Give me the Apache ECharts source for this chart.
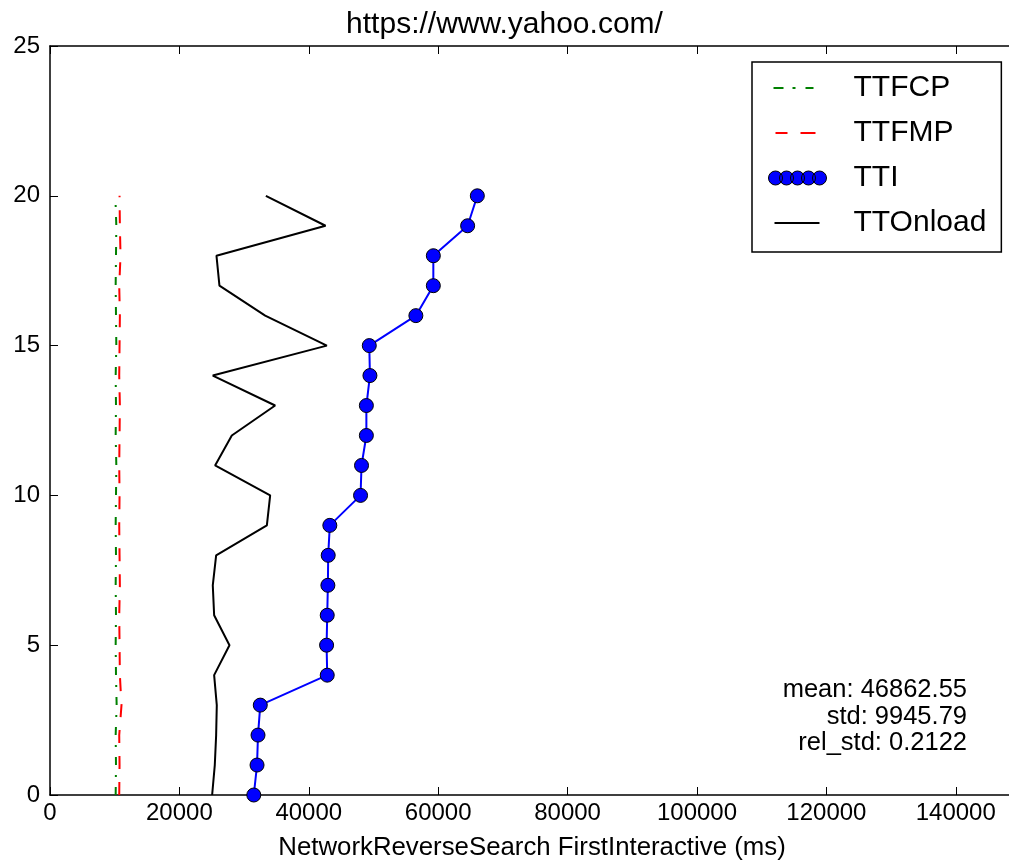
<!DOCTYPE html>
<html>
<head>
<meta charset="utf-8">
<script src="https://cdn.jsdelivr.net/npm/echarts@6/dist/echarts.min.js"></script>
<style>
  html, body { margin: 0; padding: 0; background: #fff; }
  #main { width: 1009px; height: 863px; }
</style>
</head>
<body>
<div id="main"></div>
<script>
// run index (y axis)
var runs = [0, 1, 2, 3, 4, 5, 6, 7, 8, 9, 10, 11, 12, 13, 14, 15, 16, 17, 18, 19, 20];
// x values in ms
var ttfcp = [10150, 10200, 10150, 10300, 10200, 10150, 10200, 10150, 10200, 10150, 10200,
             10250, 10150, 10200, 10150, 10250, 10200, 10150, 10200, 10250, 10100];
var ttfmp = [10700, 10750, 10700, 11050, 10800, 10750, 10700, 10800, 10750, 10700, 10750,
             10700, 10750, 10800, 10700, 10750, 10800, 10700, 10900, 10800, 10750];
var tti = [31500, 32000, 32150, 32500, 42850, 42750, 42850, 42950, 43000, 43250, 48000,
           48150, 48900, 48900, 49450, 49350, 56550, 59250, 59250, 64550, 66050];
var ttonload = [25060, 25470, 25680, 25780, 25370, 27740, 25370, 25160, 25680, 33520, 34030,
                25520, 28100, 34800, 25160, 42790, 33260, 26190, 25730, 42590, 33365];
var xTicks = [0, 20000, 40000, 60000, 80000, 100000, 120000, 140000];
var statLines = ['mean: 46862.55', 'std: 9945.79', 'rel_std: 0.2122'];

function pairs(xs) {
  return xs.map(function (v, i) { return [v, runs[i]]; });
}

var FONT = '"Liberation Sans", Arial, sans-serif';
// legend icons, drawn in a 58x14 box (tiny corner triangles fix the box)
var anchors = 'M0,0L0.01,0L0,0.01Z M58,14L57.99,14L58,13.99Z ';
var iconFcp = 'path://' + anchors + 'M5,6h10v2h-10Z M24,6h3v2h-3Z M37,6h8v2h-8Z';
var iconFmp = 'path://' + anchors + 'M7,6h12v2h-12Z M32,6h15v2h-15Z';
var iconOnload = 'path://' + anchors + 'M6,6h45v2h-45Z';
var iconTti = 'path://' + anchors +
  'M0,7a7,7 0 1,0 14,0a7,7 0 1,0 -14,0Z M11,7a7,7 0 1,0 14,0a7,7 0 1,0 -14,0Z ' +
  'M22,7a7,7 0 1,0 14,0a7,7 0 1,0 -14,0Z M33,7a7,7 0 1,0 14,0a7,7 0 1,0 -14,0Z ' +
  'M44,7a7,7 0 1,0 14,0a7,7 0 1,0 -14,0Z';

var chart = echarts.init(document.getElementById('main'));
var option = {
  animation: false,
  backgroundColor: '#fff',
  title: {
    text: 'https://www.yahoo.com/',
    left: 'center',
    top: 5,
    textStyle: { fontFamily: FONT, fontSize: 30, fontWeight: 'normal', color: '#000' }
  },
  grid: { left: 50, right: -5, top: 46, bottom: 68, containLabel: false, outerBoundsMode: 'none' },
  legend: {
    orient: 'vertical',
    left: 752,
    top: 62,
    padding: [11, 15, 14, 16],
    itemGap: 15,
    itemWidth: 58,
    itemHeight: 14,
    borderColor: '#000',
    borderWidth: 1.5,
    backgroundColor: '#fff',
    textStyle: { fontFamily: FONT, fontSize: 30, lineHeight: 30, color: '#000', padding: [0, 0, 0, 22] },
    data: [
      { name: 'TTFCP', icon: iconFcp, itemStyle: { color: '#008000', borderWidth: 0 } },
      { name: 'TTFMP', icon: iconFmp, itemStyle: { color: '#ff0000', borderWidth: 0 } },
      { name: 'TTI', icon: iconTti, itemStyle: { color: '#0000ff', borderColor: '#000', borderWidth: 1 } },
      { name: 'TTOnload', icon: iconOnload, itemStyle: { color: '#000', borderWidth: 0 } }
    ]
  },
  xAxis: [
    {
      type: 'value',
      position: 'bottom',
      min: 0,
      max: 149000,
      interval: 20000,
      name: 'NetworkReverseSearch FirstInteractive (ms)',
      nameLocation: 'middle',
      nameGap: 40,
      nameTextStyle: { fontFamily: FONT, fontSize: 25.8, color: '#000' },
      axisLine: { lineStyle: { color: '#000', width: 1.5 } },
      axisTick: { inside: true, length: 8, lineStyle: { color: '#000', width: 1 } },
      axisLabel: {
        fontFamily: FONT, fontSize: 24, color: '#000', margin: 6, showMaxLabel: false,
        formatter: function (v) { return xTicks.indexOf(v) >= 0 ? String(v) : ''; }
      },
      splitLine: { show: false }
    },
    {
      type: 'value',
      position: 'top',
      min: 0,
      max: 149000,
      interval: 20000,
      axisLine: { lineStyle: { color: '#000', width: 1.5 } },
      axisTick: { inside: true, length: 8, lineStyle: { color: '#000', width: 1 } },
      axisLabel: { show: false },
      splitLine: { show: false }
    }
  ],
  yAxis: {
    type: 'value',
    min: 0,
    max: 25,
    interval: 5,
    axisLine: { show: true, lineStyle: { color: '#000', width: 1.5 } },
    axisTick: { show: true, inside: true, length: 8, lineStyle: { color: '#000', width: 1 } },
    axisLabel: { fontFamily: FONT, fontSize: 24, color: '#000', margin: 10 },
    splitLine: { show: false }
  },
  series: [
    {
      name: 'TTFCP', type: 'line', data: pairs(ttfcp), showSymbol: false, symbol: 'none',
      color: '#008000', lineStyle: { color: '#008000', width: 2, type: [8, 10, 2, 10] }
    },
    {
      name: 'TTFMP', type: 'line', data: pairs(ttfmp), showSymbol: false, symbol: 'none',
      color: '#ff0000', lineStyle: { color: '#ff0000', width: 2, type: [13, 13] }
    },
    {
      name: 'TTI', type: 'line', data: pairs(tti), symbol: 'circle', symbolSize: 14,
      color: '#0000ff',
      lineStyle: { color: '#0000ff', width: 2 },
      itemStyle: { color: '#0000ff', borderColor: '#000', borderWidth: 1 }
    },
    {
      name: 'TTOnload', type: 'line', data: pairs(ttonload), showSymbol: false, symbol: 'none',
      color: '#000', lineStyle: { color: '#000', width: 2 }
    }
  ],
  graphic: statLines.map(function (t, i) {
    return {
      type: 'text',
      x: 967,
      y: 690 + i * 26.7,
      style: {
        text: t, fill: '#000', font: '25.5px ' + FONT,
        align: 'right', verticalAlign: 'middle'
      }
    };
  })
};
chart.setOption(option);
</script>
</body>
</html>
